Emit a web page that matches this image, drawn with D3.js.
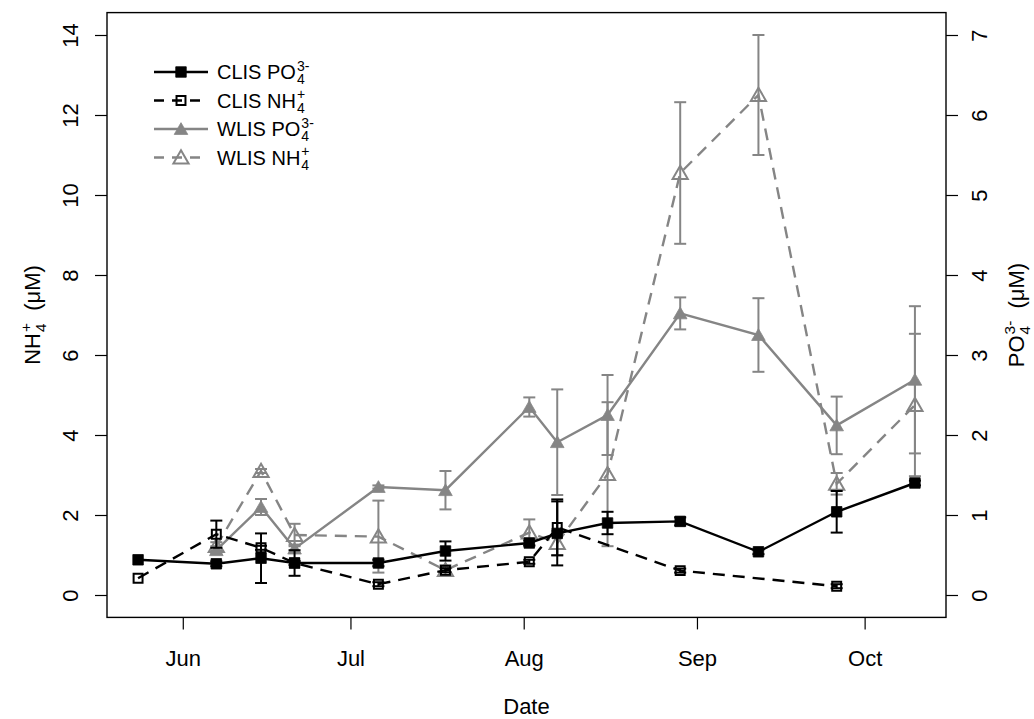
<!DOCTYPE html>
<html><head><meta charset="utf-8">
<script src="https://cdn.jsdelivr.net/npm/d3@7"></script>
<style>
body{margin:0;background:#fff}
text{font-family:"Liberation Sans",Arial,Helvetica,sans-serif;fill:#000;white-space:pre}
</style>
</head><body>
<svg id="chart" width="1034" height="719"></svg>
<script>
// ---------- data ----------
const sampleDates = ["2010-05-24","2010-06-07","2010-06-15","2010-06-21","2010-07-06","2010-07-18",
  "2010-08-02","2010-08-07","2010-08-16","2010-08-29","2010-09-12","2010-09-26","2010-10-10"];
// CLIS PO4 (uM, right axis)
const clisPO4    = [0.44,0.39,0.46,0.40,0.40,0.55,0.65,0.77,0.90,0.92,0.54,1.04,1.40];
const clisPO4Err = [0,   0.03,0.31,0.16,0.04,0.12,0.03,0.40,0.14,0.05,0.03,0.26,0.03];
// CLIS NH4 (uM, left axis)
const clisNH4    = [0.42,1.52,1.18,0.80,0.27,0.62,0.83,1.69,null,0.61,null,0.22,null];
const clisNH4Err = [0,   0.34,0.05,0.05,0.05,0.05,0.05,0.70,0,   0.05,0,   0.05,0];
// WLIS PO4 (uM, right axis)
const wlisPO4    = [null,0.56,1.10,0.58,1.35,1.31,2.35,1.91,2.25,3.52,3.25,2.12,2.69];
const wlisPO4Err = [0,   0.05,0.10,0.05,0.02,0.24,0.12,0.66,0.50,0.20,0.46,0.36,0.92];
// WLIS NH4 (uM, left axis)
const wlisNH4    = [null,1.22,3.10,1.50,1.46,0.62,1.56,1.30,3.02,10.55,12.50,2.78,4.75];
const wlisNH4Err = [0,   0.10,0.05,0.28,0.90,0.12,0.33,0.30,1.80,1.77,1.50,0.27,1.78];

const monthTicks  = ["2010-06-01","2010-07-01","2010-08-01","2010-09-01","2010-10-01"];
const monthLabels = ["Jun","Jul","Aug","Sep","Oct"];
const nh4Ticks = [0,2,4,6,8,10,12,14];
const po4Ticks = [0,1,2,3,4,5,6,7];

// ---------- layout ----------
const svg = d3.select("#chart");
const L = 107, R = 946, T = 12.6, B = 617.4;
const BLACK = "#000", GRAY = "#858585";
const FONT = 22;

const parse = d3.timeParse("%Y-%m-%d");
const dts = sampleDates.map(parse);
const [d0, d1] = d3.extent(dts);
const pad = (d1 - d0) * 0.04;
const x = d3.scaleTime().domain([new Date(+d0 - pad), new Date(+d1 + pad)]).range([L, R]);
const yL = d3.scaleLinear().domain([-0.56, 14.56]).range([B, T]);
const yR = d3.scaleLinear().domain([-0.28, 7.28]).range([B, T]);

// ---------- axes ----------
const gx = svg.append("g").attr("transform", `translate(0,${B})`)
  .call(d3.axisBottom(x).tickValues(monthTicks.map(parse))
    .tickFormat((d, i) => monthLabels[i]).tickSize(12).tickSizeOuter(0).tickPadding(21));
gx.select(".domain").remove();
gx.selectAll("text").style("font-size", FONT + "px").attr("font-family", null);
gx.selectAll("line").attr("stroke-width", 1.2);

const gl = svg.append("g").attr("transform", `translate(${L},0)`)
  .call(d3.axisLeft(yL).tickValues(nh4Ticks).tickSize(12).tickSizeOuter(0));
gl.select(".domain").remove();
gl.selectAll("line").attr("stroke-width", 1.2);
gl.selectAll(".tick text").attr("x", 0).attr("y", 0).attr("dy", 0)
  .attr("text-anchor", "middle").attr("transform", "translate(-29,0) rotate(-90)")
  .style("font-size", FONT + "px").attr("font-family", null);

const gr = svg.append("g").attr("transform", `translate(${R},0)`)
  .call(d3.axisRight(yR).tickValues(po4Ticks).tickSize(12).tickSizeOuter(0));
gr.select(".domain").remove();
gr.selectAll("line").attr("stroke-width", 1.2);
gr.selectAll(".tick text").attr("x", 0).attr("y", 0).attr("dy", 0)
  .attr("text-anchor", "middle").attr("transform", "translate(41,0) rotate(-90)")
  .style("font-size", FONT + "px").attr("font-family", null);

// box
svg.append("rect").attr("x", L).attr("y", T).attr("width", R - L).attr("height", B - T)
  .attr("fill", "none").attr("stroke", "#000").attr("stroke-width", 1.4);

// ---------- rich label helper (base + stacked sup/sub + tail) ----------
function richLabel(g, x0, y0, base, sup, sub, tail, size, anchorMiddle) {
  const grp = g.append("g");
  const t1 = grp.append("text").attr("x", x0).attr("y", y0).style("font-size", size + "px").text(base);
  const w1 = t1.node().getComputedTextLength();
  const ss = size * 0.7;
  const tsup = grp.append("text").attr("x", x0 + w1 + 1).attr("y", y0 - size * 0.42).style("font-size", ss + "px").text(sup);
  const tsub = grp.append("text").attr("x", x0 + w1 + 1).attr("y", y0 + size * 0.27).style("font-size", ss + "px").text(sub);
  const w2 = Math.max(tsup.node().getComputedTextLength(), tsub.node().getComputedTextLength());
  let total = w1 + 1 + w2;
  if (tail) {
    const t3 = grp.append("text").attr("x", x0 + total).attr("y", y0).style("font-size", size + "px").text(tail);
    total += t3.node().getComputedTextLength();
  }
  if (anchorMiddle) grp.attr("transform", `translate(${-total / 2},0)`);
  return grp;
}

// axis titles
svg.append("text").attr("x", (L + R) / 2).attr("y", 714).attr("text-anchor", "middle")
  .style("font-size", FONT + "px").text("Date");
const lt = svg.append("g").attr("transform", `translate(40,${(T + B) / 2}) rotate(-90)`);
richLabel(lt, 0, 0, "NH", "+", "4", "\u00A0\u00A0(\u03BCM)", FONT, true);
const rt = svg.append("g").attr("transform", `translate(1024,${(T + B) / 2}) rotate(-90)`);
richLabel(rt, 0, 0, "PO", "3-", "4", "\u00A0\u00A0(\u03BCM)", FONT, true);

// ---------- series ----------
function drawSeries(vals, errs, yS, color, dash, kind) {
  const pts = dts.map((d, i) => ({ d, v: vals[i], e: errs[i] })).filter(p => p.v != null);
  const g = svg.append("g");
  g.append("path").datum(pts)
    .attr("d", d3.line().x(p => x(p.d)).y(p => yS(p.v)))
    .attr("fill", "none").attr("stroke", color).attr("stroke-width", 2.4)
    .attr("stroke-dasharray", dash);
  const eb = g.selectAll(".eb").data(pts.filter(p => p.e > 0)).enter().append("g");
  eb.append("line").attr("x1", p => x(p.d)).attr("x2", p => x(p.d))
    .attr("y1", p => yS(p.v - p.e)).attr("y2", p => yS(p.v + p.e))
    .attr("stroke", color).attr("stroke-width", 2);
  [1, -1].forEach(s => {
    eb.append("line").attr("x1", p => x(p.d) - 6).attr("x2", p => x(p.d) + 6)
      .attr("y1", p => yS(p.v + s * p.e)).attr("y2", p => yS(p.v + s * p.e))
      .attr("stroke", color).attr("stroke-width", 2);
  });
  drawMarkers(g, pts.map(p => [x(p.d), yS(p.v)]), color, kind);
}
function drawMarkers(g, xy, color, kind) {
  const tri = kind.startsWith("tri");
  const open = kind.endsWith("open");
  const sym = d3.symbol().type(tri ? d3.symbolTriangle : d3.symbolSquare)
    .size(tri ? (open ? 100 : 80) : (open ? 80 : 110));
  g.selectAll(".mk").data(xy).enter().append("path")
    .attr("transform", p => `translate(${p[0]},${p[1] + (tri ? 1.5 : 0)})`)
    .attr("d", sym)
    .attr("fill", open ? "none" : color)
    .attr("stroke", color).attr("stroke-width", open ? 2 : 0.8);
}

drawSeries(wlisNH4, wlisNH4Err, yL, GRAY, "12,8", "tri-open");
drawSeries(wlisPO4, wlisPO4Err, yR, GRAY, null, "tri-fill");
drawSeries(clisNH4, clisNH4Err, yL, BLACK, "12,8", "sq-open");
drawSeries(clisPO4, clisPO4Err, yR, BLACK, null, "sq-fill");

// ---------- legend ----------
const legendItems = [
  { name: "CLIS PO", sup: "3-", sub: "4", color: BLACK, dash: null, kind: "sq-fill" },
  { name: "CLIS NH", sup: "+", sub: "4", color: BLACK, dash: "10,8", kind: "sq-open" },
  { name: "WLIS PO", sup: "3-", sub: "4", color: GRAY, dash: null, kind: "tri-fill" },
  { name: "WLIS NH", sup: "+", sub: "4", color: GRAY, dash: "10,8", kind: "tri-open" }
];
const lg = svg.append("g");
legendItems.forEach((it, i) => {
  const yy = 72 + i * 28.5;
  lg.append("line").attr("x1", 154).attr("x2", 208).attr("y1", yy).attr("y2", yy)
    .attr("stroke", it.color).attr("stroke-width", 2.4).attr("stroke-dasharray", it.dash);
  drawMarkers(lg, [[181, yy]], it.color, it.kind);
  richLabel(lg, 217, yy + 7, it.name, it.sup, it.sub, null, 20, false);
});
</script>
</body></html>
